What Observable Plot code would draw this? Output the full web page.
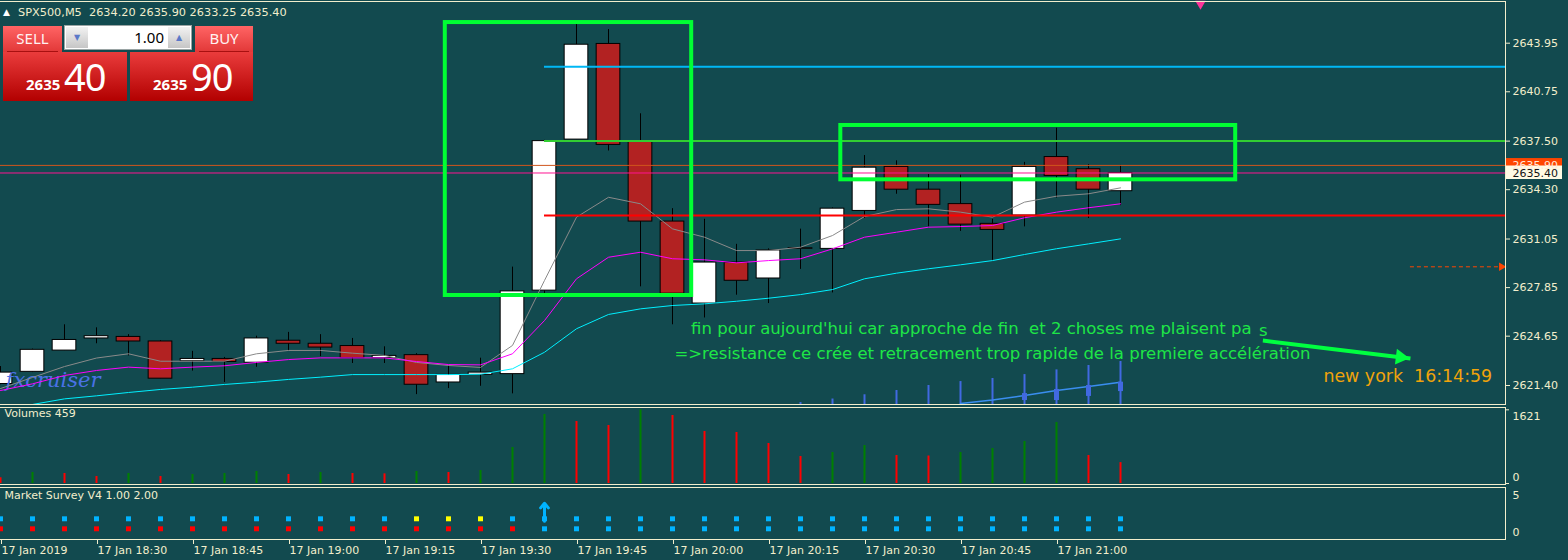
<!DOCTYPE html>
<html><head><meta charset="utf-8"><title>SPX500,M5</title>
<script src="https://cdn.jsdelivr.net/npm/d3@7"></script>
<script src="https://cdn.jsdelivr.net/npm/@observablehq/plot@0.6"></script>
<style>
html,body{margin:0;padding:0;background:#124a4f;}
#wrap{position:relative;width:1568px;height:560px;overflow:hidden;background:#124a4f;font-family:"DejaVu Sans",sans-serif;}
.panel{position:absolute;left:0;width:1568px;}
.panel svg{display:block;max-width:none;}
.frame{position:absolute;box-sizing:border-box;border:1px solid #f2eecc;pointer-events:none;}
#hdr{position:absolute;left:3px;top:5px;color:#f2eecc;font-size:11.3px;white-space:pre;line-height:16px;}
#hdr .tri{display:inline-block;width:15px;font-size:9px;color:#fff;position:relative;top:-1px;}
.btn{position:absolute;top:26px;height:26px;background:linear-gradient(#ff6464,#e23838);color:#fff2f2;font-family:"Noto Sans",sans-serif;font-size:15px;text-align:center;line-height:25px;}
.btn:after{content:"";position:absolute;left:4px;right:4px;bottom:0;height:1px;background:#a81010;}
.pbox{position:absolute;top:52px;height:49px;background:linear-gradient(#ea3c3c,#b20000);color:#fff;font-family:"Noto Sans",sans-serif;}
.pbox .small{position:absolute;left:23px;top:25px;font-weight:bold;font-size:15px;line-height:15px;}
.pbox .big{position:absolute;left:61px;top:2px;font-size:38px;line-height:44px;letter-spacing:-1px;}
#spin{position:absolute;left:64px;top:25px;width:128px;height:25px;box-sizing:border-box;border:1px solid #9aa4a4;background:#fff;}
#spin .sb{position:absolute;top:1px;width:22px;height:21px;background:linear-gradient(#f2f2f2,#c6c6c6);color:#5a78c8;font-size:8px;text-align:center;line-height:21px;}
#spin .val{position:absolute;right:27px;top:0;font-family:"Noto Sans",sans-serif;font-size:15px;line-height:23px;color:#000;}
</style></head>
<body>
<div id="wrap">
  <div id="main" class="panel" style="top:0px"></div>
  <div id="vol" class="panel" style="top:405px"></div>
  <div id="surv" class="panel" style="top:486px"></div>
  <div class="frame" style="left:-2px;top:1px;width:1508px;height:404px"></div>
  <div class="frame" style="left:-2px;top:407px;width:1508px;height:78px"></div>
  <div class="frame" style="left:-2px;top:487px;width:1508px;height:53px"></div>
  <div id="hdr"><span class="tri">▲</span>SPX500,M5  2634.20 2635.90 2633.25 2635.40</div>
  <div class="btn" style="left:3px;width:59px">SELL</div>
  <div id="spin"><div class="sb" style="left:1px">▼</div><div class="val">1.00</div><div class="sb" style="right:1px">▲</div></div>
  <div class="btn" style="left:195px;width:58px">BUY</div>
  <div class="pbox" style="left:3px;width:124px"><span class="small">2635</span><span class="big">40</span></div>
  <div class="pbox" style="left:130px;width:123px"><span class="small">2635</span><span class="big">90</span></div>
</div>
<script>
// ---------- data (SPX500, M5, 17 Jan 2019, bars 18:15 .. 21:10) ----------
const opens  = [2621.50,2622.30,2623.70,2624.50,2624.60,2624.30,2623.00,2623.15,2622.90,2624.35,2624.15,2624.00,2623.20,2623.40,2621.60,2622.10,2622.15,2627.65,2637.60,2643.90,2637.50,2632.20,2626.80,2629.50,2628.45,2630.40,2630.40,2632.90,2635.80,2634.30,2633.35,2632.05,2632.60,2636.45,2635.65,2634.20];
const highs  = [2622.65,2623.80,2625.40,2625.20,2624.75,2624.35,2623.65,2623.25,2624.65,2624.90,2624.75,2624.50,2623.95,2623.50,2622.65,2623.20,2629.20,2637.55,2645.25,2644.85,2639.30,2633.05,2632.35,2630.70,2630.40,2631.70,2633.10,2636.55,2636.20,2635.30,2635.25,2632.35,2636.10,2638.35,2635.95,2635.90];
const lows   = [2621.45,2622.25,2623.70,2624.15,2623.35,2621.85,2622.35,2621.60,2622.60,2623.70,2623.30,2622.85,2622.85,2620.80,2621.20,2621.35,2620.85,2627.45,2637.60,2636.85,2627.90,2625.40,2625.85,2627.35,2626.80,2629.05,2627.50,2632.40,2634.00,2631.85,2631.55,2629.65,2631.85,2633.75,2632.40,2633.25];
const closes = [2622.25,2623.75,2624.40,2624.65,2624.30,2621.85,2623.15,2622.95,2624.50,2624.15,2623.90,2623.20,2623.35,2621.45,2622.10,2622.25,2627.60,2637.50,2643.85,2637.25,2632.20,2627.45,2629.50,2628.30,2630.30,2630.45,2633.05,2635.75,2634.30,2633.30,2632.00,2631.65,2635.80,2635.20,2634.30,2635.40];

const maFast = [2621.20,2621.93,2622.65,2623.21,2623.49,2623.00,2623.00,2623.00,2623.49,2623.71,2623.71,2623.53,2623.38,2622.92,2622.72,2622.59,2624.04,2628.32,2632.49,2633.80,2633.37,2631.72,2631.17,2630.29,2630.29,2630.51,2631.28,2632.53,2632.99,2633.04,2632.82,2632.49,2633.48,2633.87,2634.03,2634.42];
const maMid  = [2621.07,2621.51,2622.06,2622.39,2622.61,2622.50,2622.61,2622.70,2622.92,2623.11,2623.22,2623.22,2623.22,2622.98,2622.78,2622.76,2623.49,2625.68,2628.43,2629.85,2630.18,2629.75,2629.68,2629.48,2629.63,2629.75,2630.40,2631.17,2631.50,2631.83,2631.87,2631.94,2632.45,2632.82,2633.11,2633.37];
const maSlow = [2619.85,2620.15,2620.52,2620.72,2620.94,2621.14,2621.29,2621.47,2621.62,2621.80,2621.95,2622.12,2622.12,2622.12,2622.12,2622.14,2622.50,2623.59,2625.14,2626.08,2626.45,2626.67,2626.78,2626.95,2627.15,2627.39,2627.72,2628.43,2628.80,2629.09,2629.35,2629.63,2630.03,2630.41,2630.73,2631.06];

const volumes  = [125,242,220,154,220,154,198,220,264,198,242,220,212,264,242,286,792,1518,1364,1276,1621,1496,1144,1122,880,594,682,836,616,605,682,770,924,1342,616,459];
const volumeUp = [0,1,0,0,1,0,1,1,1,0,1,0,0,1,0,1,1,1,0,0,1,0,0,0,0,0,1,1,0,0,1,1,1,1,0,0];
const volumeMaxLabel = 1621;

const surveyLevels = [2, 1];
const surveyTopState    = ["B","B","B","B","B","B","B","B","B","B","B","B","B","Y","Y","Y","B","B","B","B","B","B","B","B","B","B","B","B","B","B","B","B","B","B","B","B"];
const surveyBottomState = ["R","R","R","R","R","R","R","R","R","R","R","R","R","R","R","R","R","B","B","B","B","B","B","B","B","B","B","B","B","B","B","B","B","B","B","B"];
const surveySignal = [{i: 17, from: 1.75, to: 3.55}];

const blueBarIdx = [25,26,27,28,29,30,31,32,33,34,35];
const blueBarTop = [2620.28,2620.51,2620.79,2621.07,2621.40,2621.66,2621.86,2622.12,2622.43,2622.72,2622.98];
const blueLineIdx = [30,31,32,33,34,35];
const blueLineVal = [2620.21,2620.45,2620.74,2621.07,2621.33,2621.62];
const blueThickIdx = [32,33,34,35];
const blueThickLo  = [2620.41,2620.41,2620.68,2621.00];
const blueThickHi  = [2620.87,2621.14,2621.40,2621.62];

const levels = [
  {name: "high",       price: 2642.40, from: 17, color: "#00b8f5"},
  {name: "resistance", price: 2637.50, from: 17, color: "#32cd32"},
  {name: "mid",        price: 2632.60, from: 17, color: "#ff0000"}
];
const askPrice = 2635.90, bidPrice = 2635.40;
const boxes = [
  {x1: 13.9, x2: 21.6, y1: 2627.33, y2: 2645.31},
  {x1: 26.26, x2: 38.6, y1: 2634.95, y2: 2638.53}
];
const notes = [
  {i: 21.58, price: 2625.14, text: "fin pour aujourd'hui car approche de fin  et 2 choses me plaisent pa", color: "#1ee646", size: 16.5, style: "normal"},
  {i: 39.33, price: 2624.98, text: "s", color: "#1ee646", size: 16.5, style: "normal"},
  {i: 21.06, price: 2623.49, text: "=>resistance ce crée et retracement trop rapide de la premiere accélération", color: "#1ee646", size: 16.5, style: "normal"},
  {i: 41.34, price: 2621.97, text: "new york  16:14:59", color: "#f0a30a", size: 17.4, style: "normal"},
  {i: 0.16,  price: 2621.73, text: "fxcruiser", color: "#4a72e6", size: 21, style: "italic"}
];
const greenArrow = [{x1: 39.45, y1: 2624.36, x2: 44.06, y2: 2623.18}];
const dashedArrow = [{price: 2629.22, x1: 44.06, x2: 47.0}];
const topMarker = [{i: 37.5, price: 2646.55}];

const priceTicks = [2643.95,2640.75,2637.50,2634.30,2631.05,2627.85,2624.65,2621.40];
const xTickIdx = [0,3,6,9,12,15,18,21,24,27,30,33];
const xTickLabels = ["17 Jan 2019","17 Jan 18:30","17 Jan 18:45","17 Jan 19:00","17 Jan 19:15","17 Jan 19:30","17 Jan 19:45","17 Jan 20:00","17 Jan 20:15","17 Jan 20:30","17 Jan 20:45","17 Jan 21:00"];

// ---------- layout ----------
const cream = "#f2eecc";
const W = 1568, MR = 63;
const xDomain = [0, (W - MR) / 32];
const yMain = [2620.083, 2646.763];
const baseStyle = {background: "transparent", color: cream, fontFamily: "DejaVu Sans", fontSize: "11px"};

const idx = d3.range(opens.length);
const candles = idx.map(i => ({i, o: opens[i], h: highs[i], l: lows[i], c: closes[i]}));
const maSeries = [
  {name: "fast", color: "#8a8a8a", values: maFast},
  {name: "mid",  color: "#ff00ff", values: maMid},
  {name: "slow", color: "#00f0ff", values: maSlow}
];
const maData = maSeries.flatMap(m => m.values.map((v, i) => ({i, v, name: m.name, color: m.color})));
const blueBars = blueBarIdx.map((i, k) => ({i, top: blueBarTop[k]}));
const blueLine = blueLineIdx.map((i, k) => ({i, v: blueLineVal[k]}));
const blueThick = blueThickIdx.map((i, k) => ({i, lo: blueThickLo[k], hi: blueThickHi[k]}));
const tagX1 = xDomain[1] + 1 / 32, tagX2 = xDomain[1] + 57 / 32, tagTextX = xDomain[1] + 7 / 32;
const tags = [
  {lo: 2635.50, hi: 2636.35, price: askPrice, bg: "#ff4500", fg: "#ffe8d8"},
  {lo: 2634.97, hi: 2635.86, price: bidPrice, bg: "#fffbe4", fg: "#141414"}
];

const main = Plot.plot({
  width: W, height: 405,
  marginLeft: 0, marginRight: MR, marginTop: 0, marginBottom: 0,
  x: {domain: xDomain, axis: null},
  y: {domain: yMain},
  color: {type: "identity"},
  style: baseStyle,
  marks: [
    Plot.ruleX(blueBars, {x: "i", y1: () => yMain[0], y2: "top", stroke: "#4169e1", strokeWidth: 2, clip: true}),
    Plot.line(blueLine, {x: "i", y: "v", stroke: "#3a8ef0", strokeWidth: 1.5, clip: true}),
    Plot.ruleX(blueThick, {x: "i", y1: "lo", y2: "hi", stroke: "#4169e1", strokeWidth: 5, clip: true}),
    Plot.ruleX(candles, {x: "i", y1: "l", y2: "h", stroke: "#000", strokeWidth: 1}),
    Plot.rect(candles, {x1: d => d.i - 0.37, x2: d => d.i + 0.37, y1: "o", y2: "c",
      fill: d => d.c >= d.o ? "#ffffff" : "#b22222", stroke: "#000", strokeWidth: 1}),
    Plot.text(notes.filter(n => n.style === "italic"), {x: "i", y: "price", text: "text", fill: "color", fontSize: 21, fontStyle: "italic", fontFamily: "DejaVu Serif", textAnchor: "start"}),
    Plot.line(maData, {x: "i", y: "v", z: "name", stroke: "color", strokeWidth: 1, clip: true}),
    Plot.ruleY(levels, {y: "price", x1: "from", x2: () => xDomain[1], stroke: "color", strokeWidth: 2}),
    Plot.ruleY([askPrice], {y: d => d, stroke: "#d0561c", strokeWidth: 1}),
    Plot.ruleY([bidPrice], {y: d => d, stroke: "#ff1493", strokeWidth: 1}),
    Plot.rect(boxes, {x1: "x1", x2: "x2", y1: "y1", y2: "y2", fill: "none", stroke: "#00ff33", strokeWidth: 4}),
    Plot.text(notes.filter(n => n.style !== "italic"), {x: "i", y: "price", text: "text", fill: "color", fontSize: "size", textAnchor: "start"}),
    Plot.link(greenArrow, {x1: "x1", y1: "y1", x2: "x2", y2: "y2", stroke: "#00ff40", strokeWidth: 4}),
    Plot.dot(greenArrow, {x: "x2", y: "y2", symbol: "triangle2", r: 7.5, rotate: 97, fill: "#00ff40", dx: -10, dy: -1.3}),
    Plot.ruleY(dashedArrow, {y: "price", x1: "x1", x2: "x2", stroke: "#ff4500", strokeWidth: 1, strokeDasharray: "4,3"}),
    Plot.dot(dashedArrow, {x: "x2", y: "price", symbol: "triangle2", r: 4, rotate: 90, fill: "#ff4500", dx: -3}),
    Plot.dot(topMarker, {x: "i", y: "price", symbol: "triangle2", r: 5, rotate: 180, fill: "#ff3399"}),
    Plot.axisY(priceTicks, {anchor: "right", tickSize: 4, tickPadding: 3, tickFormat: d => d.toFixed(2), label: null}),
    Plot.rect(tags, {x1: () => tagX1, x2: () => tagX2, y1: "lo", y2: "hi", fill: "bg"}),
    Plot.text(tags, {x: () => tagTextX, y: "price", text: d => d.price.toFixed(2), fill: "fg", textAnchor: "start"})
  ]
});
document.getElementById("main").append(main);

// ---------- volumes ----------
const vols = idx.map(i => ({i, v: volumes[i], up: volumeUp[i]}));
const volPlot = Plot.plot({
  width: W, height: 81,
  marginLeft: 0, marginRight: MR, marginTop: 0, marginBottom: 0,
  x: {domain: xDomain, axis: null},
  y: {domain: [-66, 1716]},
  color: {type: "identity"},
  style: baseStyle,
  marks: [
    Plot.ruleX(vols, {x: "i", y1: () => 0, y2: "v", stroke: d => d.up ? "#008000" : "#ff0000", strokeWidth: 2}),
    Plot.text(["Volumes " + volumes[volumes.length - 1]], {frameAnchor: "top-left", dx: 4, dy: 4, lineAnchor: "top", textAnchor: "start", fill: cream}),
    Plot.axisY([0, volumeMaxLabel], {anchor: "right", tickSize: 3, tickFormat: () => "", label: null}),
    Plot.text([volumeMaxLabel], {x: () => xDomain[1], y: d => d, text: d => String(d), dx: 7, dy: 6.5, textAnchor: "start", fill: cream}),
    Plot.text([0], {x: () => xDomain[1], y: d => d, text: d => String(d), dx: 7, dy: -6, textAnchor: "start", fill: cream})
  ]
});
document.getElementById("vol").append(volPlot);

// ---------- market survey + time axis ----------
const stateColor = {B: "#00b4ff", Y: "#ffff00", R: "#ff0000"};
const survey = idx.flatMap(i => [
  {i, level: surveyLevels[0], color: stateColor[surveyTopState[i]]},
  {i, level: surveyLevels[1], color: stateColor[surveyBottomState[i]]}
]);
const survPlot = Plot.plot({
  width: W, height: 74,
  marginLeft: 0, marginRight: MR, marginTop: 1, marginBottom: 20,
  x: {domain: xDomain},
  y: {domain: [-0.17, 5.13], axis: null},
  color: {type: "identity"},
  style: baseStyle,
  marks: [
    Plot.dot(survey, {x: "i", y: "level", symbol: "square", r: 2.8, fill: "color"}),
    Plot.arrow(surveySignal, {x1: "i", x2: "i", y1: "from", y2: "to", stroke: "#00b4ff", strokeWidth: 3, headLength: 7, headAngle: 80}),
    Plot.text(["Market Survey V4 1.00 2.00"], {frameAnchor: "top-left", dx: 4, dy: 4, lineAnchor: "top", textAnchor: "start", fill: cream}),
    Plot.text([5], {x: () => xDomain[1], y: d => d, text: d => String(d), dx: 7, dy: 7, textAnchor: "start", fill: cream}),
    Plot.text([0], {x: () => xDomain[1], y: d => d, text: d => String(d), dx: 7, dy: -6.5, textAnchor: "start", fill: cream}),
    Plot.axisX(xTickIdx, {anchor: "bottom", tickSize: 4, tickPadding: 2, tickFormat: d => xTickLabels[xTickIdx.indexOf(d)], textAnchor: "start", dx: 1, label: null})
  ]
});
document.getElementById("surv").append(survPlot);
</script>
</body></html>
